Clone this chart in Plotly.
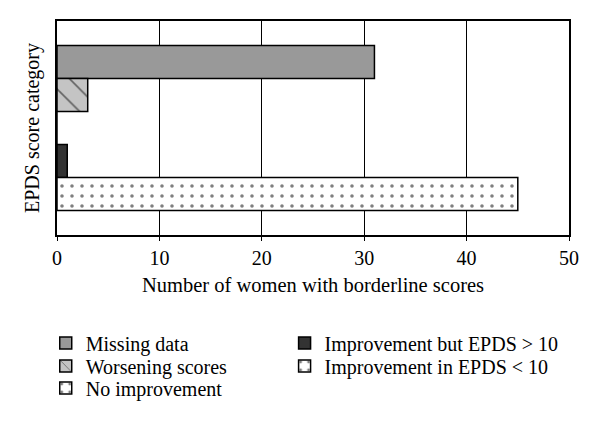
import plotly.graph_objects as go

categories = ["EPDS"]
series_names = ["Missing data", "Worsening scores", "No improvement",
                "Improvement but EPDS > 10", "Improvement in EPDS < 10"]
series_values = [31, 3, 0, 1, 45]
x_ticks = [0, 10, 20, 30, 40, 50]

colors = ["#999999", "#c4c4c4", "#ffffff", "#333333", "#ffffff"]
patterns = ["", "\\", ".", "", "."]
legend_ids = ["legend", "legend2", "legend3", "legend4", "legend5"]
legend_pos = [(-0.022, -0.505), (-0.022, -0.612), (-0.022, -0.715),
              (0.4445, -0.505), (0.4445, -0.612)]

font = "Liberation Serif"

fig = go.Figure()
for name, val, col, pat, lg in zip(series_names, series_values, colors, patterns, legend_ids):
    marker = dict(color=col, line=dict(color="black", width=1.5))
    if pat:
        marker["pattern"] = dict(shape=pat, fgcolor="black", bgcolor=col,
                                 size=16 if pat == "\\" else 10, solidity=0.1)
    fig.add_trace(go.Bar(y=categories, x=[val], name=name, orientation="h",
                         marker=marker, legend=lg))

leg_common = dict(orientation="h", xanchor="left", yanchor="middle",
                  font=dict(family=font, size=20, color="black"), itemwidth=30,
                  bgcolor="rgba(0,0,0,0)")

legends = {}
for lg, (lx, ly) in zip(legend_ids, legend_pos):
    legends[lg] = dict(x=lx, y=ly, **leg_common)

fig.update_layout(
    width=600, height=423,
    margin=dict(l=57, r=31, t=21, b=188),
    barmode="group", bargap=0.23, bargroupgap=0,
    plot_bgcolor="white", paper_bgcolor="white",
    font=dict(family=font, size=20, color="black"),
    showlegend=True,
    xaxis=dict(range=[0, 50], tickvals=x_ticks, showgrid=True, gridcolor="black", gridwidth=1,
               showline=True, linecolor="black", linewidth=1.5, mirror=True,
               ticks="outside", ticklen=4, tickcolor="black", zeroline=False,
               tickfont=dict(family=font, size=20, color="black"),
               title=dict(text="Number of women with borderline scores", standoff=10,
                          font=dict(family=font, size=20.5, color="black"))),
    yaxis=dict(showticklabels=False, showline=True, linecolor="black", linewidth=1.5, mirror=True,
               showgrid=False, autorange="reversed",
               title=dict(text="EPDS score category", standoff=10,
                          font=dict(family=font, size=20, color="black"))),
    **legends,
)

fig.write_html("out.html", config={"displayModeBar": False},
               post_script="document.body.style.margin='0';")
